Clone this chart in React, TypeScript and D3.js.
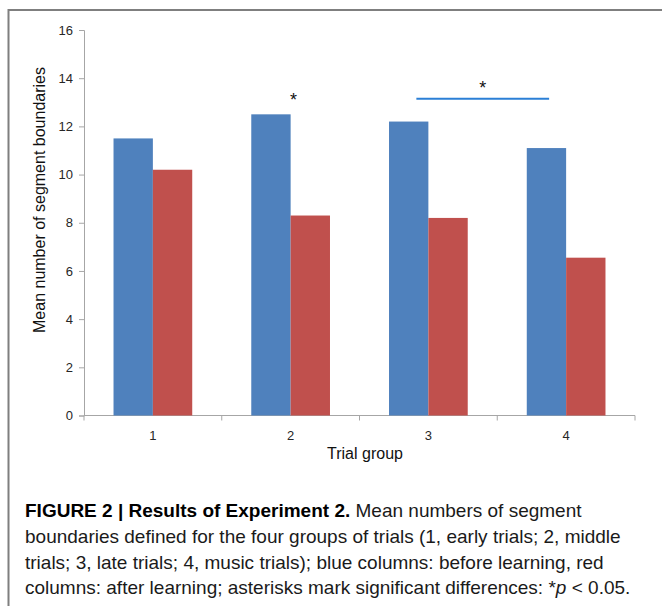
import { useEffect, useRef } from 'react';
import * as d3 from 'd3';

const categories = ['1', '2', '3', '4'];
const seriesKeys = ['before', 'after'];
const beforeLearning = [11.5, 12.5, 12.2, 11.1];
const afterLearning = [10.2, 8.3, 8.2, 6.55];
const yTicks = [0, 2, 4, 6, 8, 10, 12, 14, 16];

const SERIES_COLORS = ['#4f81bd', '#c0504d'];

export default function App() {
  const svgRef = useRef<SVGSVGElement>(null);

  useEffect(() => {
    if (!svgRef.current) return;
    const svg = d3.select(svgRef.current);
    svg.selectAll('*').remove();

    const width = 662;
    const height = 606;
    const plot = { left: 84, right: 635, top: 30, bottom: 415.5 };
    const font = '"Liberation Sans", Arial, sans-serif';

    svg.attr('width', width).attr('height', height).attr('viewBox', `0 0 ${width} ${height}`);

    // figure frame (open on the right and bottom)
    svg.append('path')
      .attr('d', `M8.5,${height} L8.5,10 L${width},10`)
      .attr('fill', 'none')
      .attr('stroke', '#7f7f7f')
      .attr('stroke-width', 2);

    const x0 = d3.scaleBand<string>().domain(categories).range([plot.left, plot.right]).padding(0);
    const x1 = d3.scaleBand<string>().domain(seriesKeys).range([0, x0.bandwidth()])
      .paddingInner(0).paddingOuter(0.75);
    const y = d3.scaleLinear().domain([0, 16]).range([plot.bottom, plot.top]);

    // y axis
    const yAxis = svg.append('g')
      .attr('transform', `translate(${plot.left},0)`)
      .call(d3.axisLeft(y).tickValues(yTicks).tickSize(5).tickPadding(6));
    yAxis.select('.domain').attr('stroke', '#a6a6a6');
    yAxis.selectAll('.tick line').attr('stroke', '#a6a6a6');
    yAxis.selectAll('.tick text')
      .attr('fill', '#262626')
      .style('font-family', font)
      .style('font-size', '13px');

    // x axis, ticks on category boundaries
    const xg = svg.append('g');
    xg.append('line')
      .attr('x1', plot.left).attr('x2', plot.right)
      .attr('y1', plot.bottom).attr('y2', plot.bottom)
      .attr('stroke', '#a6a6a6');
    const bounds = categories.map((c) => x0(c) || 0).concat([plot.right]);
    xg.selectAll('line.tk')
      .data(bounds)
      .enter()
      .append('line')
      .attr('class', 'tk')
      .attr('x1', (d) => d).attr('x2', (d) => d)
      .attr('y1', plot.bottom).attr('y2', plot.bottom + 5)
      .attr('stroke', '#a6a6a6');
    xg.selectAll('text')
      .data(categories)
      .enter()
      .append('text')
      .attr('x', (d) => (x0(d) || 0) + x0.bandwidth() / 2)
      .attr('y', 440)
      .attr('text-anchor', 'middle')
      .attr('fill', '#262626')
      .style('font-family', font)
      .style('font-size', '13px')
      .text((d) => d);

    // bars
    const rows = categories.map((c, i) => ({ cat: c, values: [beforeLearning[i], afterLearning[i]] }));
    const groups = svg.append('g')
      .selectAll('g')
      .data(rows)
      .enter()
      .append('g')
      .attr('transform', (d) => `translate(${x0(d.cat)},0)`);
    groups.selectAll('rect')
      .data((d) => d.values.map((v, j) => ({ key: seriesKeys[j], v, j })))
      .enter()
      .append('rect')
      .attr('x', (d) => x1(d.key) || 0)
      .attr('width', x1.bandwidth())
      .attr('y', (d) => y(d.v))
      .attr('height', (d) => plot.bottom - y(d.v))
      .attr('fill', (d) => SERIES_COLORS[d.j]);

    // significance marks
    const center = (c: string) => (x0(c) || 0) + x0.bandwidth() / 2;
    svg.append('text')
      .attr('x', center('2') + 3)
      .attr('y', y(13.2) + 9)
      .attr('text-anchor', 'middle')
      .style('font-family', font)
      .style('font-size', '18px')
      .attr('fill', '#111')
      .text('*');
    svg.append('line')
      .attr('x1', center('3') - 12)
      .attr('x2', center('4') - 17)
      .attr('y1', y(13.15)).attr('y2', y(13.15))
      .attr('stroke', '#2b7fd6')
      .attr('stroke-width', 2);
    svg.append('text')
      .attr('x', (center('3') - 12 + center('4') - 17) / 2)
      .attr('y', y(13.7) + 9)
      .attr('text-anchor', 'middle')
      .style('font-family', font)
      .style('font-size', '18px')
      .attr('fill', '#111')
      .text('*');

    // axis titles
    svg.append('text')
      .attr('transform', `translate(45,200) rotate(-90)`)
      .attr('text-anchor', 'middle')
      .style('font-family', font)
      .style('font-size', '16px')
      .attr('fill', '#111')
      .text('Mean number of segment boundaries');
    svg.append('text')
      .attr('x', 365)
      .attr('y', 459)
      .attr('text-anchor', 'middle')
      .style('font-family', font)
      .style('font-size', '16px')
      .attr('fill', '#111')
      .text('Trial group');

    // caption
    const cap = svg.append('g')
      .style('font-family', font)
      .style('font-size', '19px')
      .attr('fill', '#1a1a1a');
    const l1 = cap.append('text').attr('x', 25).attr('y', 517);
    l1.append('tspan').attr('font-weight', 'bold').attr('fill', '#000').text('FIGURE 2 | Results of Experiment 2.');
    l1.append('tspan').text(' Mean numbers of segment');
    cap.append('text').attr('x', 25).attr('y', 543)
      .text('boundaries defined for the four groups of trials (1, early trials; 2, middle');
    cap.append('text').attr('x', 25).attr('y', 568.5)
      .text('trials; 3, late trials; 4, music trials); blue columns: before learning, red');
    const l4 = cap.append('text').attr('x', 25).attr('y', 594);
    l4.append('tspan').text('columns: after learning; asterisks mark significant differences: *');
    l4.append('tspan').attr('font-style', 'italic').text('p');
    l4.append('tspan').text(' < 0.05.');
  }, []);

  return <svg ref={svgRef} style={{ position: 'absolute', left: 0, top: 0 }} />;
}
